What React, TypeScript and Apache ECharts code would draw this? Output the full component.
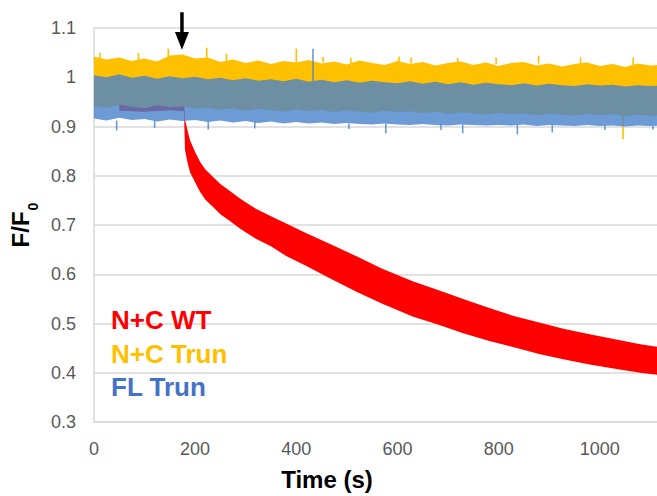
import React, { useEffect, useRef } from 'react';
import * as echarts from 'echarts';

// ---- data ----
const xTicks = [0, 200, 400, 600, 800, 1000];
const yTicks = [0.3, 0.4, 0.5, 0.6, 0.7, 0.8, 0.9, 1.0, 1.1];

// flat traces: envelope (upper / lower edge) readings
const flatTimes = [0, 25, 50, 75, 100, 125, 150, 175, 200, 225, 250, 275, 300, 325, 350, 375, 400, 425, 450, 475, 500, 525, 550, 575, 600, 625, 650, 675, 700, 725, 750, 775, 800, 825, 850, 875, 900, 925, 950, 975, 1000, 1025, 1050, 1075, 1100, 1125];
const yellowHigh = [1.042, 1.036, 1.040, 1.033, 1.038, 1.032, 1.044, 1.046, 1.038, 1.040, 1.031, 1.036, 1.029, 1.034, 1.027, 1.033, 1.030, 1.035, 1.028, 1.032, 1.026, 1.034, 1.029, 1.025, 1.033, 1.027, 1.031, 1.024, 1.029, 1.032, 1.025, 1.030, 1.023, 1.029, 1.031, 1.024, 1.028, 1.022, 1.027, 1.030, 1.023, 1.027, 1.021, 1.028, 1.024, 1.026];
const yellowLow = [0.942, 0.938, 0.944, 0.940, 0.937, 0.943, 0.939, 0.941, 0.936, 0.938, 0.934, 0.937, 0.932, 0.936, 0.933, 0.930, 0.935, 0.931, 0.934, 0.929, 0.933, 0.930, 0.928, 0.932, 0.929, 0.931, 0.927, 0.930, 0.926, 0.929, 0.927, 0.924, 0.928, 0.925, 0.927, 0.923, 0.926, 0.924, 0.922, 0.926, 0.923, 0.925, 0.921, 0.924, 0.922, 0.923];
const blueHigh = [1.004, 1.000, 1.006, 0.999, 1.003, 0.997, 1.002, 0.998, 1.001, 0.996, 0.999, 0.994, 0.998, 0.993, 0.996, 0.992, 0.997, 0.991, 0.995, 0.990, 0.994, 0.989, 0.993, 0.990, 0.988, 0.992, 0.987, 0.991, 0.986, 0.990, 0.985, 0.989, 0.986, 0.984, 0.988, 0.983, 0.987, 0.984, 0.982, 0.986, 0.983, 0.985, 0.981, 0.984, 0.982, 0.983];
const blueLow = [0.916, 0.912, 0.918, 0.913, 0.915, 0.910, 0.914, 0.911, 0.913, 0.909, 0.912, 0.908, 0.911, 0.907, 0.910, 0.906, 0.909, 0.906, 0.908, 0.905, 0.907, 0.905, 0.904, 0.906, 0.904, 0.903, 0.905, 0.903, 0.902, 0.904, 0.903, 0.902, 0.903, 0.902, 0.904, 0.901, 0.903, 0.902, 0.901, 0.903, 0.901, 0.902, 0.900, 0.902, 0.901, 0.902];

// isolated spikes: [time, base, tip]
const yellowSpikes = [[12, 1.038, 1.050], [88, 1.035, 1.049], [147, 1.040, 1.058], [223, 1.038, 1.060], [262, 1.032, 1.048], [400, 1.030, 1.058], [453, 1.030, 1.041], [508, 1.028, 1.039], [603, 1.030, 1.042], [627, 1.028, 1.040], [719, 1.028, 1.039], [795, 1.027, 1.040], [879, 1.028, 1.044], [962, 1.026, 1.040], [1066, 1.024, 1.040], [1046, 0.925, 0.874]];
const blueSpikes = [[45, 0.912, 0.892], [120, 0.912, 0.897], [226, 0.910, 0.894], [318, 0.910, 0.896], [433, 0.992, 1.058], [504, 0.906, 0.895], [577, 0.906, 0.886], [686, 0.904, 0.893], [729, 0.904, 0.886], [837, 0.903, 0.884], [906, 0.903, 0.888], [1010, 0.902, 0.893], [1105, 0.901, 0.894]];

// N+C WT trace envelope
const redTimes = [50, 100, 150, 178, 180, 185, 190, 200, 210, 220, 235, 250, 270, 290, 320, 350, 380, 420, 470, 520, 570, 630, 680, 730, 780, 830, 880, 930, 980, 1030, 1080, 1130];
const redHigh = [0.955, 0.957, 0.954, 0.956, 0.914, 0.892, 0.872, 0.848, 0.828, 0.813, 0.798, 0.783, 0.768, 0.753, 0.733, 0.718, 0.703, 0.683, 0.660, 0.636, 0.611, 0.586, 0.568, 0.550, 0.532, 0.515, 0.502, 0.489, 0.478, 0.468, 0.458, 0.450];
const redLow = [0.932, 0.930, 0.933, 0.931, 0.853, 0.827, 0.807, 0.787, 0.767, 0.752, 0.737, 0.722, 0.707, 0.692, 0.672, 0.657, 0.637, 0.617, 0.590, 0.564, 0.540, 0.514, 0.498, 0.480, 0.465, 0.452, 0.438, 0.427, 0.417, 0.408, 0.400, 0.394];

// injection arrow: [time, top, headStart, tip]
const arrowMark = [[174, 1.132, 1.092, 1.056]];

const seriesNames = ['N+C WT', 'N+C Trun', 'FL Trun'];
const seriesColors = ['#FF0000', '#FFC000', '#4472C4'];

const FONT = 'Liberation Sans, Arial, sans-serif';

function band(name: string, times: number[], hi: number[], lo: number[], color: string, opacity: number, z: number) {
  return {
    type: 'custom',
    name,
    coordinateSystem: 'cartesian2d',
    silent: true,
    z,
    encode: { x: 0, y: 1 },
    data: [[times[0], hi[0]]],
    renderItem: (_p: any, api: any) => {
      const pts: number[][] = [];
      for (let i = 0; i < times.length; i++) pts.push(api.coord([times[i], hi[i]]));
      for (let i = times.length - 1; i >= 0; i--) pts.push(api.coord([times[i], lo[i]]));
      return { type: 'polygon', shape: { points: pts }, style: { fill: color, opacity } };
    },
  };
}

function spikes(name: string, data: number[][], color: string, opacity: number, z: number) {
  return {
    type: 'custom',
    name,
    coordinateSystem: 'cartesian2d',
    silent: true,
    z,
    encode: { x: 0, y: 2 },
    data,
    renderItem: (_p: any, api: any) => {
      const a = api.coord([api.value(0), api.value(1)]);
      const b = api.coord([api.value(0), api.value(2)]);
      return {
        type: 'line',
        shape: { x1: a[0], y1: a[1], x2: b[0], y2: b[1] },
        style: { stroke: color, lineWidth: 1.6, opacity },
      };
    },
  };
}

export default function App() {
  const ref = useRef<HTMLDivElement>(null);
  useEffect(() => {
    const chart = echarts.init(ref.current!, null, { renderer: 'svg' });
    const option: any = {
      animation: false,
      backgroundColor: '#ffffff',
      grid: { left: 92, top: 28, width: 609, height: 400, containLabel: false },
      legend: {
        orient: 'vertical',
        left: 101,
        top: 302,
        icon: 'none',
        itemWidth: 0,
        itemHeight: 25,
        itemGap: 7.5,
        selectedMode: false,
        data: seriesNames.map((n, i) => ({
          name: n,
          textStyle: { color: seriesColors[i], fontSize: 26, fontWeight: 'bold', fontFamily: FONT },
        })),
      },
      xAxis: {
        type: 'value',
        min: 0,
        max: 1200,
        interval: 200,
        axisLine: { show: true, lineStyle: { color: '#d9d9d9', width: 1.5 } },
        axisTick: { show: false },
        splitLine: { show: false },
        axisLabel: {
          color: '#595959',
          fontSize: 18,
          fontFamily: FONT,
          margin: 18,
          formatter: (v: number) => (xTicks.indexOf(v) >= 0 ? String(v) : ''),
        },
        name: 'Time (s)',
        nameLocation: 'middle',
        nameGap: 45,
        nameTextStyle: {
          color: '#000',
          fontSize: 24,
          fontWeight: 'bold',
          fontFamily: FONT,
          padding: [0, 141, 0, 0],
        },
      },
      yAxis: {
        type: 'value',
        min: 0.3,
        max: 1.1,
        interval: 0.1,
        axisLine: { show: true, lineStyle: { color: '#d9d9d9', width: 1.5 } },
        axisTick: { show: false },
        splitLine: { show: true, lineStyle: { color: '#d9d9d9', width: 1.5 } },
        axisLabel: {
          color: '#595959',
          fontSize: 18,
          fontFamily: FONT,
          margin: 18,
          formatter: (v: number) => {
            const r = Math.round(v * 10) / 10;
            return yTicks.some((t) => Math.abs(t - r) < 1e-6) ? String(r) : '';
          },
        },
        name: '{m|F/F}{s|0}',
        nameLocation: 'middle',
        nameRotate: 90,
        nameGap: 56,
        nameTextStyle: {
          rich: {
            m: { fontSize: 24, fontWeight: 'bold', color: '#000', fontFamily: FONT, lineHeight: 26, verticalAlign: 'top' },
            s: { fontSize: 14, fontWeight: 'bold', color: '#000', fontFamily: FONT, lineHeight: 14, padding: [18, 0, 0, 1], verticalAlign: 'top' },
          },
        },
      },
      series: [
        band(seriesNames[0], redTimes, redHigh, redLow, seriesColors[0], 1, 2),
        band(seriesNames[1], flatTimes, yellowHigh, yellowLow, seriesColors[1], 1, 3),
        spikes('yellow spikes', yellowSpikes, seriesColors[1], 1, 3),
        band(seriesNames[2], flatTimes, blueHigh, blueLow, '#4782CC', 0.8, 4),
        spikes('blue spikes', blueSpikes, '#4782CC', 0.8, 4),
        {
          type: 'custom',
          name: 'injection',
          coordinateSystem: 'cartesian2d',
          silent: true,
          z: 6,
          encode: { x: 0, y: 1 },
          data: arrowMark,
          renderItem: (_p: any, api: any) => {
            const t = api.value(0);
            const top = api.coord([t, api.value(1)]);
            const hs = api.coord([t, api.value(2)]);
            const tip = api.coord([t, api.value(3)]);
            return {
              type: 'group',
              children: [
                { type: 'line', shape: { x1: top[0], y1: top[1], x2: hs[0], y2: hs[1] + 1 }, style: { stroke: '#000', lineWidth: 3.5 } },
                {
                  type: 'polygon',
                  shape: { points: [[hs[0] - 7, hs[1]], [hs[0] + 7, hs[1]], [tip[0], tip[1]]] },
                  style: { fill: '#000' },
                },
              ],
            };
          },
        },
      ],
    };
    chart.setOption(option);
    return () => chart.dispose();
  }, []);
  return (
    <div style={{ position: 'fixed', left: 0, top: 0, width: 657, height: 496, overflow: 'hidden', background: '#fff' }}>
      <div ref={ref} style={{ width: 760, height: 496 }} />
    </div>
  );
}
